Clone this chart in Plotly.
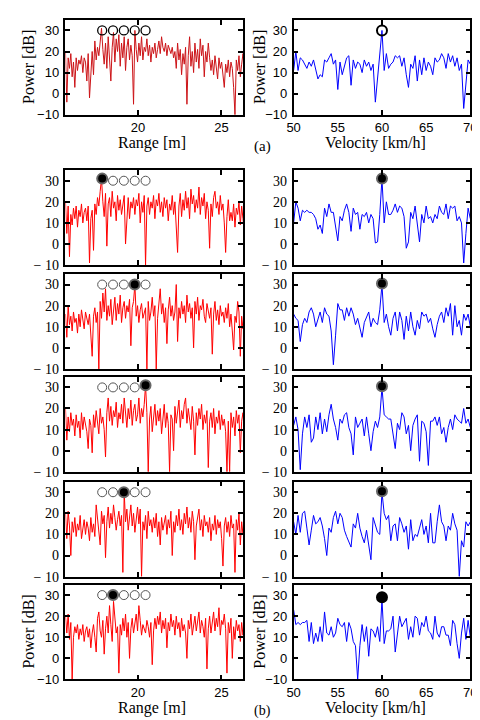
import numpy as np
import plotly.graph_objects as go

# ---------------- data ----------------
range_lim = [15.65, 26.3]
vel_lim = [50, 70]
range_grid = np.linspace(15.65, 26.37, 135)   # range bins (m)
vel_grid = np.linspace(50, 70, 81)            # velocity bins (km/h)

range_a = [20, -4, 17, 12, 19, 8, 15, 3, 17, 11,
           16, 14, 18, 10, 17, 15, 6, 19, -2, 12,
           20, 9, 25, 16, 22, 18, 27, 31, 21, 14,
           24, 12, 27, 18, 6, 22, 29, 15, 26, 20,
           28, 13, 24, 17, 27, 11, 22, 26, 16, 23,
           18, -5, 30, 21, 15, 24, 18, 27, 16, 22,
           20, 26, 18, 23, 15, 22, 19, 24, 17, 21,
           25, 19, 27, 22, 20, 24, 18, 23, 21, 19,
           22, 17, 20, 12, 24, 16, 21, 9, 19, 14,
           22, -5, 18, 27, 13, 20, 10, 24, 15, 21,
           12, 26, 18, 23, 8, 20, 15, 24, 17, 11,
           16, 9, 18, 13, 7, 17, 12, 15, 10, 3,
           14, 10, 16, 8, 15, 12, 3, -10, 16, 11,
           18, 8, 14, 19, 12]
vel_a = [11, 20, 11, 17, 16, 14, 12, 15, 13, 16,
         11, 7, 9, 8, 16, 15, 17, 19, 14, 16,
         2, 15, 9, 13, 17, 18, 4, 16, 12, 15,
         14, 10, 16, 13, 15, 11, 14, -4, 8, 20,
         30, 11, 19, 12, 14, 15, 18, 17, 18, 13,
         17, 9, 3, 14, 12, 18, 6, 16, 9, 17,
         11, 15, 13, 9, 17, 15, 16, 19, 17, 12,
         19, 15, 18, 13, 17, 11, 14, -7, 5, 16,
         14]

range_b1 = [20, 5, 18, -6, 14, 9, 17, 12, 18, 8,
            16, 13, 19, 10, 15, 17, 11, 18, -9, 12,
            16, -3, 19, 14, 22, 18, 25, 31, 20, 13,
            24, -1, 19, 22, 13, 25, 17, 20, 11, 23,
            16, 21, 14, 19, 23, 0, 15, 22, 12, 20,
            17, 22, 14, 21, 18, 24, 10, 20, 15, 23,
            -10, 18, 22, 14, 20, 17, 23, 12, 21, 18,
            24, 15, 20, 13, 22, 17, 21, 11, 19, 16,
            23, 14, 20, 9, -4, 18, 24, 13, 21, 16,
            25, 17, 22, 12, 26, 19, 23, 15, 21, 17,
            27, 14, 22, 18, 24, 12, 20, 16, -2, 19,
            13, 22, 25, 17, 20, 14, 23, 16, 19, 10,
            -4, 13, 21, 11, 15, 11, 19, 8, 17, 14,
            20, 9, 18, 12, 6]
vel_b1 = [10, 20, 17, 11, 16, 15, 16, 15, 15, 14,
          12, 7, 9, 5, 17, 13, 19, 15, 15, 8,
          1.5, 13, 11, 16, 19, 15, 6, 17, 14, 15,
          7, 14, 13, 15, 10, 14, 12, 0.5, 1, 14,
          31, 10, 20, 14, 14, 16, 19, 15, 18, 17,
          13, -2, 1, 15, 12, 18, 10, 1, 14, 10,
          18, 12, 13, 10, 14, 12, 18, 15, 14, 19,
          12, 18, 17, 18, 11, 13, 10, -9, 5, 17,
          12]

range_b2 = [16, 5, 20, 11, 15, 8, 17, 12, 14, 7,
            16, 10, 18, 13, 9, 17, 14, 11, 16, 6,
            -4, 15, 19, 12, 17, -10, 22, 14, 26, 17,
            28, 13, 20, 15, 23, 11, 18, 24, 13, 21,
            16, 25, 12, 19, 22, 14, 20, 17, 23, 1,
            19, 22, 30, 15, 20, 12, 18, 21, 14, 16,
            19, -10, 22, 13, 17, 24, 15, 20, -10, 14,
            23, 28, 16, 21, 12, 19, 2, 18, 24, 15,
            20, 13, 17, 30, 3, 19, 14, 22, 16, 20,
            12, 25, 17, 21, 14, 19, 0, 22, 16, 24,
            13, 20, 18, 23, 15, 12, 21, 17, 14, 19,
            -3, 16, 22, 13, 18, 11, 20, 15, 17, 12,
            19, 14, 21, 10, 16, 8, -1, 15, 12, 22,
            17, -4, 15, 9, 14]
vel_b2 = [16, 14, 13, 3, 11, 14, 12, 17, 19, 16,
          10, 13, 17, 12, 19, 16, 15, 8, -8, 6,
          21, 18, 18, 13, 19, 15, 19, 16, 11, 14,
          9, 5, 12, 15, 17, 10, 14, 12, 11, 18,
          30, 12, 16, 10, 6, 14, 17, 8, 17, 13,
          4, 15, 8, 17, 10, 6, 13, 9, 17, 15,
          16, 12, 14, 9, 5, 11, 15, 17, 12, 19,
          15, 21, 6, 20, 10, 13, 6, 16, 13, 16,
          10]

range_b3 = [20, 5, 16, 9, 18, 12, 15, 7, 17, 11,
            14, 6, 18, 10, 16, 13, 9, 1, 15, 12,
            -1, 17, 11, 19, 14, 8, 20, 13, 16, 10,
            -3, 18, 25, 14, 21, 12, 19, 16, 23, 11,
            18, 15, 22, 13, 25, 17, 11, 20, 15, 24,
            12, 19, 22, 14, 17, 25, 13, 20, 16, 22,
            31, 18, -10, 15, 21, 9, 17, 22, 12, 19,
            14, 20, 8, 16, 22, 11, 18, 13, -10, 17,
            15, 0, 21, 13, 18, 24, 11, 19, 15, 22,
            25, 13, 20, 16, 10, 21, 14, -2, 18, 12,
            20, 15, 22, 10, 17, 13, 19, -8, 14, 18,
            11, 20, 8, 16, 13, 19, 10, 17, 12, 15,
            9, -10, 14, -10, 18, 11, 16, 7, 19, 13,
            17, -1, 14, 18, 10]
vel_b3 = [12, 16, 10, -9, 8, 16, 11, 17, 4, 6,
          16, 10, 18, 8, 15, 9, 17, 22, 15, 11,
          5, 15, 13, 17, 18, 11, 8, -2, 16, 11,
          13, 15, 7, 16, 8, 0, 9, 14, 11, 16,
          30, 17, 16, 15, 15, 9, 1, 13, 10, 18,
          16, 8, 12, 0, 12, 15, 17, -5, 14, 13,
          9, -7, 14, 14, 16, 12, 16, 8, 11, 4,
          11, 15, 10, 17, 15, 14, 13, 20, 13, 15,
          11]

range_b4 = [20, 8, 21, 14, 0, 16, 11, 18, 9, 15,
            12, 19, 8, 14, 17, 10, 16, 13, 7, 18,
            11, 15, 9, 24, 17, 13, 5, 21, 15, 19,
            -1, 16, 23, 13, 20, 15, 24, 18, 12, 17,
            21, 14, 19, -8, 30, 16, 22, 12, 18, 24,
            14, 20, 11, 17, 23, 15, 22, -10, 16, 12,
            19, 8, 21, 14, 17, 11, 18, 13, 20, 9,
            16, 5, 18, 12, 15, 19, 10, 17, 13, 21,
            0, 16, 11, 19, 14, 22, 12, 17, 10, 20,
            15, 23, 13, 18, 11, 21, 16, -2, 14, 19,
            22, 12, 17, 9, 19, 14, 16, 11, 18, 7,
            15, 12, 19, 10, 17, 13, 16, 8, -5, 14,
            18, 11, 16, 9, 19, 13, 15, -8, 17, 12,
            20, 5, 16, 10, 14]
vel_b4 = [16, 10, 19, 11, 20, 21, 13, 5, 12, 19,
          15, 16, 18, 14, 8, 0, 13, 11, 18, 21,
          15, 20, 18, 12, 9, 6, 4, 15, 13, 20,
          13, 9, 6, 12, 5, -2, 18, 15, 11, 10,
          30, 20, 17, 19, 7, 14, 15, 7, 18, 15,
          11, 14, 3, 17, 7, 10, 9, 13, 17, 10,
          14, 6, 20, 6, 6, 16, 24, 16, 14, 7,
          14, 12, 20, 15, 12, -10, 7, 4, 16, 14,
          16]

range_b5 = [20, 12, 21, 9, 17, -10, 10, 15, 12, 16,
            9, 14, 11, 16, 8, 13, 15, 10, 14, 5,
            12, 16, 10, 3, 19, 22, 13, 10, 18, 2,
            14, 20, 12, 25, 16, 8, 27, 18, 12, 15,
            -7, 16, 11, 19, 13, 21, 10, 17, 0, 14,
            19, 12, 16, 21, 13, 25, 18, 11, 16, 14,
            12, 18, 15, 10, 17, -3, 13, 19, 14, 20,
            16, 22, 12, 18, 14, 19, 5, 17, 13, 21,
            15, 18, 11, 20, 14, 17, 10, 19, 13, 16,
            12, 0, 18, 14, 21, 11, 16, 20, 13, 17,
            22, 12, 18, 15, 10, 19, -5, 14, 20, 12,
            17, 22, 13, 19, 15, 24, 11, 18, 16, 21,
            14, -7, 17, 12, 19, 0, 15, 9, 18, 13,
            16, 8, 17, 11, 15]
vel_b5 = [23, 16, 17, 16, 17, 17, 18, 8, 17, 7,
          12, 8, 15, 8, 22, 12, 11, 15, 10, 12,
          19, 16, 15, 17, 8, 17, 14, 8, 6, -10,
          6, 16, 8, 15, 1, 14, 13, 10, 15, 8,
          28, 7, 13, 13, 14, 20, 3, 12, 20, 15,
          17, 19, 9, 15, 10, 20, 19, 11, 17, 15,
          20, 13, 12, 9, 20, 12, 10, 15, 15, 11,
          11, 6, 18, 16, 7, 0, 12, 19, 9, 18,
          10]

range_series = [range_a, range_b1, range_b2, range_b3, range_b4, range_b5]
vel_series = [vel_a, vel_b1, vel_b2, vel_b3, vel_b4, vel_b5]

circle_x = [17.85, 18.5, 19.15, 19.8, 20.45]
circle_y = [30, 30, 30, 30, 30, 30]
selected = [None, 0, 3, 4, 2, 1]          # filled candidate per row
vel_peak_x = 60
vel_peak_y = [30, 31, 30.5, 30.5, 30.5, 29]

y_tickvals = [-10, 0, 10, 20, 30]
range_tickvals = [20, 25]
vel_tickvals = [50, 55, 60, 65, 70]

# ---------------- layout geometry ----------------
W, H = 480, 720
rows_px = [(12, 108), (164, 260), (269, 365), (373, 469), (479, 575), (583, 679)]
left_px = (52, 235)
right_px = (287, 469)

def fx(p):
    return p / W

def fy(p):
    return 1 - p / H

SERIF = "Liberation Serif, Times New Roman, serif"
SANS = "Liberation Sans, Arial, sans-serif"
row_font = [SANS, SERIF, SERIF, SERIF, SERIF, SANS]
row_fsize = [13, 14, 14, 14, 14, 13]

fig = go.Figure()
layout = dict(width=W, height=H, autosize=False,
              margin=dict(l=0, r=0, t=0, b=0),
              paper_bgcolor="white", plot_bgcolor="white",
              showlegend=False)

annotations = []

for r in range(6):
    top, bot = rows_px[r]
    ydom = [fy(bot), fy(top)]
    fnt = dict(family=row_font[r], size=row_fsize[r], color="black")
    if row_font[r] == SERIF:
        ytext = ["\u2212 10", "0", "10", "20", "30"]
    else:
        ytext = ["\u221210", "0", "10", "20", "30"]
    line_color = "#cc1418" if r == 0 else "#ff0000"
    show_x = r in (0, 5)
    for side in range(2):
        k = 2 * r + side + 1
        xa = "x" if k == 1 else f"x{k}"
        ya = "y" if k == 1 else f"y{k}"
        xdom = [fx(left_px[0]), fx(left_px[1])] if side == 0 else [fx(right_px[0]), fx(right_px[1])]
        common = dict(showline=True, linecolor="black", linewidth=1.5, mirror="allticks",
                      showgrid=False, zeroline=False, tickfont=fnt,
                      tickcolor="black", tickwidth=1.5, ticklen=5)
        if side == 0:
            xaxis = dict(common, domain=xdom, anchor=ya, range=range_lim,
                         tickmode="array", tickvals=range_tickvals,
                         ticks="inside", showticklabels=show_x)
            fig.add_trace(go.Scatter(x=range_grid, y=range_series[r], mode="lines",
                                     line=dict(color=line_color, width=1),
                                     xaxis=xa, yaxis=ya, hoverinfo="skip"))
            # candidate circles
            if r == 0:
                fig.add_trace(go.Scatter(x=circle_x, y=[circle_y[r]] * 5, mode="markers",
                                         marker=dict(symbol="circle-open", size=9, color="black",
                                                     line=dict(width=1.3, color="black")),
                                         xaxis=xa, yaxis=ya, hoverinfo="skip"))
            else:
                sel = selected[r]
                ox = [c for i, c in enumerate(circle_x) if i != sel]
                fig.add_trace(go.Scatter(x=ox, y=[circle_y[r]] * len(ox), mode="markers",
                                         marker=dict(symbol="circle-open", size=9, color="#555555",
                                                     line=dict(width=1, color="#555555")),
                                         xaxis=xa, yaxis=ya, hoverinfo="skip"))
                fig.add_trace(go.Scatter(x=[circle_x[sel]], y=[circle_y[r] + (1 if sel in (0, 4) else 0)],
                                         mode="markers",
                                         marker=dict(symbol="circle", size=10, color="black",
                                                     line=dict(width=2, color="#666666")),
                                         xaxis=xa, yaxis=ya, hoverinfo="skip"))
        else:
            xaxis = dict(common, domain=xdom, anchor=ya, range=vel_lim,
                         tickmode="array", tickvals=vel_tickvals,
                         ticks="", showticklabels=show_x,
                         minor=dict(tickmode="array", tickvals=[60], ticks="inside",
                                    ticklen=5, tickwidth=1.5, tickcolor="black"))
            fig.add_trace(go.Scatter(x=vel_grid, y=vel_series[r], mode="lines",
                                     line=dict(color="#0000ff", width=1),
                                     xaxis=xa, yaxis=ya, hoverinfo="skip"))
            if r == 0:
                mk = dict(symbol="circle-open", size=10, color="black",
                          line=dict(width=2, color="black"))
            else:
                mk = dict(symbol="circle", size=10, color="black",
                          line=dict(width=2, color="#666666" if r < 5 else "black"))
            fig.add_trace(go.Scatter(x=[vel_peak_x], y=[vel_peak_y[r]], mode="markers",
                                     marker=mk, xaxis=xa, yaxis=ya, hoverinfo="skip"))
        yaxis = dict(common, domain=ydom, anchor=xa, range=[-10, 35],
                     tickmode="array", tickvals=y_tickvals, ticktext=ytext,
                     ticks="inside", ticklabelstandoff=2)
        layout["xaxis" if k == 1 else f"xaxis{k}"] = xaxis
        layout["yaxis" if k == 1 else f"yaxis{k}"] = yaxis

# axis titles and panel labels
title_font = dict(family=SERIF, size=16, color="black")
for r in (0, 5):
    top, bot = rows_px[r]
    cy = (top + bot) / 2
    annotations.append(dict(text="Power [dB]", x=fx(14), y=fy(cy), xref="paper", yref="paper",
                            textangle=-90, showarrow=False, font=title_font,
                            xanchor="center", yanchor="middle"))
    annotations.append(dict(text="Power [dB]", x=fx(252), y=fy(cy), xref="paper", yref="paper",
                            textangle=-90, showarrow=False, font=title_font,
                            xanchor="center", yanchor="middle"))
    ty = bot + 29
    annotations.append(dict(text="Range [m]", x=fx(141), y=fy(ty), xref="paper", yref="paper",
                            showarrow=False, font=title_font, xanchor="center", yanchor="middle"))
    annotations.append(dict(text="Velocity [km/h]", x=fx(371), y=fy(ty), xref="paper", yref="paper",
                            showarrow=False, font=title_font, xanchor="center", yanchor="middle"))
annotations.append(dict(text="(a)", x=fx(255), y=fy(140), xref="paper", yref="paper",
                        showarrow=False, font=dict(family=SERIF, size=15, color="black"),
                        xanchor="center", yanchor="middle"))
annotations.append(dict(text="(b)", x=fx(255), y=fy(711), xref="paper", yref="paper",
                        showarrow=False, font=dict(family=SERIF, size=14, color="black"),
                        xanchor="center", yanchor="middle"))
layout["annotations"] = annotations
fig.update_layout(**layout)
fig.write_html("out.html")
